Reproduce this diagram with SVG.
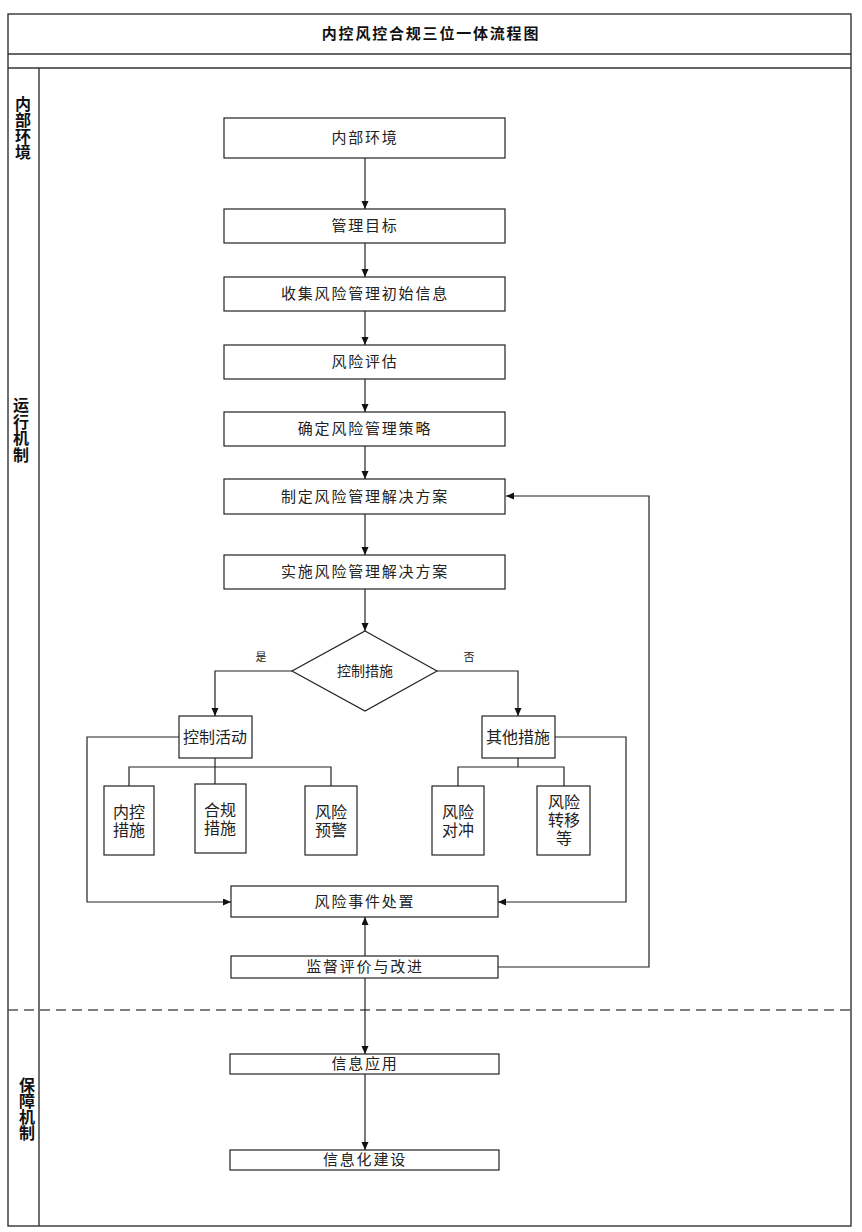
<svg xmlns="http://www.w3.org/2000/svg" width="862" height="1232" viewBox="0 0 862 1232">
<style>
.frame{fill:none;stroke:#333;stroke-width:1.4}
.box{fill:#fff;stroke:#222;stroke-width:1.2}
.t{font-family:"Liberation Serif","Noto Sans CJK SC",serif;font-size:15px;fill:#222;text-anchor:middle;letter-spacing:1.8px}
.s{font-family:"Liberation Serif","Noto Sans CJK SC",serif;font-size:16px;fill:#222;text-anchor:middle}
.lbl{font-family:"Liberation Serif","Noto Sans CJK SC",serif;font-size:11px;fill:#222;text-anchor:middle}
.lane{font-family:"Liberation Sans","Noto Sans CJK SC",sans-serif;font-size:16px;font-weight:bold;fill:#111;text-anchor:middle}
.title{font-family:"Liberation Sans","Noto Sans CJK SC",sans-serif;font-size:15px;font-weight:bold;fill:#111;text-anchor:middle;letter-spacing:1.8px}
.c{fill:none;stroke:#222;stroke-width:1.2}
.ca{fill:none;stroke:#222;stroke-width:1.2;marker-end:url(#arr)}
</style>
<defs>
<marker id="arr" markerWidth="8" markerHeight="8" refX="8" refY="3.5" orient="auto" markerUnits="userSpaceOnUse">
<path d="M0,0 L8,3.5 L0,7 z" fill="#111"/>
</marker>
</defs>
<rect width="862" height="1232" fill="#fff"/>
<g id="frame">
<rect class="frame" x="8" y="14" width="843" height="1212"/>
<line class="frame" x1="8" y1="54" x2="851" y2="54"/>
<line class="frame" x1="8" y1="68" x2="851" y2="68"/>
<line class="frame" x1="39" y1="68" x2="39" y2="1226"/>
<line x1="8" y1="1010" x2="851" y2="1010" stroke="#555" stroke-width="1.3" stroke-dasharray="10,6"/>
<text class="title" x="431" y="39">内控风控合规三位一体流程图</text>
</g>
<g id="lane-internal">
<text class="lane" x="23" y="110">内</text>
<text class="lane" x="23" y="126">部</text>
<text class="lane" x="23" y="142">环</text>
<text class="lane" x="23" y="158">境</text>
</g>
<g id="lane-operation">
<text class="lane" x="21" y="411">运</text>
<text class="lane" x="21" y="428">行</text>
<text class="lane" x="21" y="444">机</text>
<text class="lane" x="21" y="461">制</text>
</g>
<g id="lane-support">
<text class="lane" x="27" y="1091">保</text>
<text class="lane" x="27" y="1107">障</text>
<text class="lane" x="27" y="1123">机</text>
<text class="lane" x="27" y="1139">制</text>
</g>
<g id="connectors">
<path class="ca" d="M365,158 V209"/>
<path class="ca" d="M365,243 V277"/>
<path class="ca" d="M365,311 V345"/>
<path class="ca" d="M365,379 V412"/>
<path class="ca" d="M365,446 V479"/>
<path class="ca" d="M365,514 V555"/>
<path class="ca" d="M365,589 V631"/>
<path class="ca" d="M292,671 H215 V716"/>
<path class="ca" d="M437,671 H518 V716"/>
<path class="c" d="M215,758 V784"/>
<path class="c" d="M129,786 V767 H331 V786"/>
<path class="c" d="M518,758 V767"/>
<path class="c" d="M458,786 V767 H564 V786"/>
<path class="ca" d="M179,737 H87 V902 H231"/>
<path class="ca" d="M555,737 H626 V902 H498"/>
<path class="ca" d="M365,956 V917"/>
<path class="ca" d="M498,967 H649 V496 H506"/>
<path class="ca" d="M365,978 V1054"/>
<path class="ca" d="M365,1074 V1150"/>
<text class="lbl" x="261" y="661">是</text>
<text class="lbl" x="469" y="661">否</text>
</g>
<g id="n1"><rect class="box" x="224" y="118" width="281" height="40"/><text class="t" x="365" y="143">内部环境</text></g>
<g id="n2"><rect class="box" x="224" y="209" width="281" height="34"/><text class="t" x="365" y="231">管理目标</text></g>
<g id="n3"><rect class="box" x="224" y="277" width="281" height="34"/><text class="t" x="365" y="299">收集风险管理初始信息</text></g>
<g id="n4"><rect class="box" x="224" y="345" width="281" height="34"/><text class="t" x="365" y="367">风险评估</text></g>
<g id="n5"><rect class="box" x="224" y="412" width="281" height="34"/><text class="t" x="365" y="434">确定风险管理策略</text></g>
<g id="n6"><rect class="box" x="224" y="479" width="281" height="35"/><text class="t" x="365" y="502">制定风险管理解决方案</text></g>
<g id="n7"><rect class="box" x="224" y="555" width="281" height="34"/><text class="t" x="365" y="577">实施风险管理解决方案</text></g>
<g id="d1"><path class="box" d="M365,631 L437,671 L365,711 L292,671 z"/><text class="s" x="365" y="676" style="font-size:14px">控制措施</text></g>
<g id="n8"><rect class="box" x="179" y="716" width="73" height="42"/><text class="s" x="215" y="743">控制活动</text></g>
<g id="n9"><rect class="box" x="482" y="716" width="73" height="42"/><text class="s" x="518" y="743">其他措施</text></g>
<g id="n10"><rect class="box" x="104" y="786" width="50" height="69"/><text class="s" x="129" y="818">内控</text><text class="s" x="129" y="836">措施</text></g>
<g id="n11"><rect class="box" x="195" y="784" width="51" height="69"/><text class="s" x="220" y="816">合规</text><text class="s" x="220" y="834">措施</text></g>
<g id="n12"><rect class="box" x="305" y="786" width="52" height="69"/><text class="s" x="331" y="818">风险</text><text class="s" x="331" y="836">预警</text></g>
<g id="n13"><rect class="box" x="432" y="786" width="52" height="69"/><text class="s" x="458" y="818">风险</text><text class="s" x="458" y="836">对冲</text></g>
<g id="n14"><rect class="box" x="537" y="786" width="53" height="69"/><text class="s" x="564" y="808">风险</text><text class="s" x="564" y="826">转移</text><text class="s" x="564" y="844">等</text></g>
<g id="n15"><rect class="box" x="231" y="886" width="267" height="31"/><text class="t" x="365" y="907">风险事件处置</text></g>
<g id="n16"><rect class="box" x="231" y="956" width="267" height="22"/><text class="t" x="365" y="972">监督评价与改进</text></g>
<g id="n17"><rect class="box" x="230" y="1054" width="269" height="20"/><text class="t" x="365" y="1069">信息应用</text></g>
<g id="n18"><rect class="box" x="230" y="1150" width="269" height="20"/><text class="t" x="365" y="1165">信息化建设</text></g>
</svg>
